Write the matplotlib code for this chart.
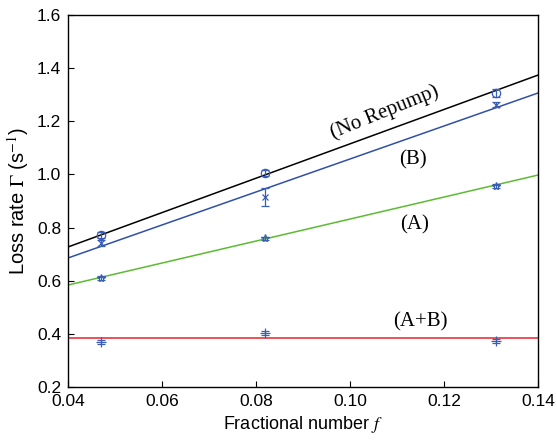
import numpy as np
import matplotlib
matplotlib.use('Agg')
import matplotlib.pyplot as plt

plt.rcParams['font.family'] = ['Liberation Sans', 'DejaVu Sans']
plt.rcParams['mathtext.fontset'] = 'stix'

# fractional number of the three measurements
f = [0.047, 0.082, 0.131]

# measured loss rates (s^-1)
no_repump = [0.772, 1.005, 1.306]
no_repump_err = [0.012, 0.012, 0.015]
rate_b = [0.742, 0.915, 1.262]
rate_b_err = [0.010, 0.035, 0.010]
rate_a = [0.610, 0.760, 0.956]
rate_a_err = [0.006, 0.006, 0.006]
rate_ab = [0.369, 0.403, 0.373]
rate_ab_err = [0.008, 0.006, 0.006]

# linear fits: slope, intercept
fit_names = ['(No Repump)', '(B)', '(A)', '(A+B)']
fit_slope = [6.47, 6.21, 4.14, 0.0]
fit_icpt = [0.468, 0.437, 0.418, 0.384]
fit_colors = ['black', '#3050a8', '#5cbb32', '#e8202a']

mk = '#3a5db5'

fig = plt.figure(figsize=(5.57, 4.40), dpi=100)
ax = fig.add_axes([0.122, 0.1205, 0.844, 0.8455])

xfit = np.array([0.04, 0.14])
for s, b, c in zip(fit_slope, fit_icpt, fit_colors):
    ax.plot(xfit, s * xfit + b, color=c, lw=1.1)

ax.errorbar(f, no_repump, yerr=no_repump_err, fmt='o', mfc='none', mec=mk,
            ecolor=mk, ms=6, mew=0.9, capsize=3, elinewidth=0.9)
ax.errorbar(f, rate_b, yerr=rate_b_err, fmt='x', color=mk, ms=5, mew=0.9,
            capsize=3, elinewidth=0.9)
ax.errorbar(f, rate_a, yerr=rate_a_err, fmt='*', mfc='none', mec=mk,
            ecolor=mk, ms=6, mew=0.9, capsize=3, elinewidth=0.9)
ax.errorbar(f, rate_ab, yerr=rate_ab_err, fmt='+', color=mk, ms=7, mew=0.9,
            capsize=3, elinewidth=0.9)

# labels on the fit lines
lab_x = [0.1074, 0.1134, 0.1138, 0.1149]
lab_y = [1.235, 1.054, 0.81, 0.445]
lab_rot = [22, 0, 0, 0]
for name, x, y, r in zip(fit_names, lab_x, lab_y, lab_rot):
    ax.text(x, y, name, family='Liberation Serif', fontsize=15,
            ha='center', va='center', rotation=r)

ax.set_xlim(0.04, 0.14)
ax.set_ylim(0.2, 1.6)
ax.set_xticks(np.arange(0.04, 0.141, 0.02))
ax.set_xticklabels(['0.04', '0.06', '0.08', '0.10', '0.12', '0.14'])
ax.set_yticks(np.arange(0.2, 1.61, 0.2))
ax.set_yticklabels(['0.2', '0.4', '0.6', '0.8', '1.0', '1.2', '1.4', '1.6'])
ax.tick_params(direction='in', length=4, labelsize=12.5, pad=5)
ax.set_xlabel('Fractional number $f$', fontsize=13)
ax.set_ylabel(r'Loss rate $\Gamma$ (s$^{-1}$)', fontsize=14.5)
for sp in ax.spines.values():
    sp.set_linewidth(1.0)

fig.savefig('out.png', dpi=100)
